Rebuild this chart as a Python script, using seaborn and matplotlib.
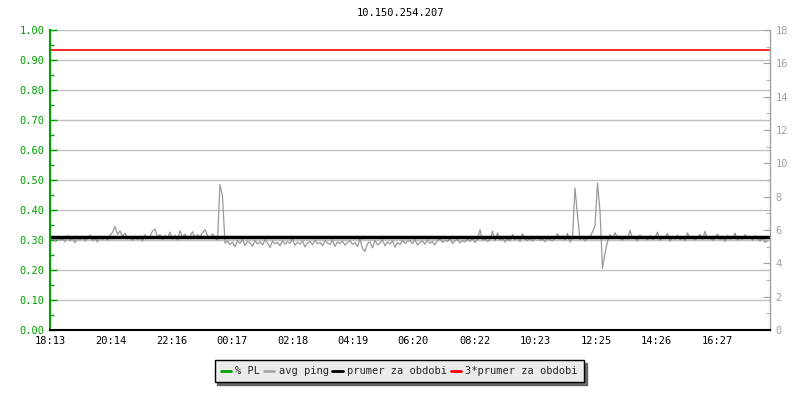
import matplotlib
matplotlib.use("Agg")
import matplotlib.pyplot as plt
from matplotlib.lines import Line2D
import numpy as np
import pandas as pd
import seaborn as sns

# ping samples (ms), one every 5 minutes starting 18:13
sample_step_min = 5
avg_ping = [
    5.42, 5.55, 5.31, 5.60, 5.38, 5.47, 5.29, 5.66, 5.35, 5.51, 5.24, 5.58,
    5.40, 5.63, 5.33, 5.49, 5.70, 5.36, 5.52, 5.28, 5.61, 5.44, 5.57, 5.39,
    5.68, 5.85, 6.22, 5.74, 5.95, 5.62, 5.81, 5.47, 5.58, 5.36, 5.64, 5.42,
    5.55, 5.33, 5.71, 5.48, 5.62, 5.94, 6.05, 5.59, 5.73, 5.41, 5.66, 5.50,
    5.87, 5.44, 5.69, 5.38, 5.96, 5.57, 5.75, 5.46, 5.63, 5.90, 5.52, 5.71,
    5.58, 5.84, 6.02, 5.66, 5.49, 5.77, 5.55, 5.38, 8.72, 8.01, 5.21, 5.34,
    5.12, 5.28, 4.98, 5.35, 5.19, 5.42, 5.07, 5.31, 5.24, 5.02, 5.38, 5.16,
    5.29, 5.10, 5.41, 5.22, 4.95, 5.33, 5.18, 5.26, 5.05, 5.37, 5.14, 5.30,
    5.20, 5.44, 5.08, 5.27, 5.15, 5.34, 4.99, 5.23, 5.31, 5.11, 5.39, 5.17,
    5.25, 5.06, 5.36, 5.21, 5.13, 5.40, 5.02, 5.28, 5.19, 5.33, 5.09, 5.26,
    5.35, 5.14, 5.24, 5.01, 5.46, 4.88, 4.72, 5.18, 5.30, 4.93, 5.37, 5.10,
    5.22, 5.41, 5.05, 5.28, 5.16, 5.35, 4.97, 5.25, 5.12, 5.39, 5.20, 5.31,
    5.36, 5.18, 5.42, 5.09, 5.27, 5.33, 5.15, 5.40, 5.21, 5.30, 5.11, 5.37,
    5.44, 5.26, 5.38, 5.31, 5.47, 5.19, 5.35, 5.42, 5.23, 5.36, 5.29, 5.45,
    5.32, 5.50, 5.26, 5.41, 6.02, 5.37, 5.48, 5.30, 5.44, 5.93, 5.35, 5.82,
    5.39, 5.52, 5.28, 5.46, 5.34, 5.74, 5.41, 5.57, 5.30, 5.78, 5.45, 5.36,
    5.50, 5.33, 5.47, 5.62, 5.38, 5.44, 5.29, 5.53, 5.40, 5.35, 5.49, 5.78,
    5.45, 5.66, 5.38, 5.80, 5.27, 5.52, 8.52, 6.88, 5.42, 5.56, 5.33, 5.49,
    5.60, 5.88, 6.25, 8.81, 7.12, 3.70, 4.62, 5.31, 5.72, 5.48, 5.83, 5.55,
    5.52, 5.38, 5.63, 5.44, 5.98, 5.49, 5.57, 5.33, 5.71, 5.46, 5.55, 5.40,
    5.66, 5.43, 5.51, 5.87, 5.37, 5.60, 5.47, 5.79, 5.32, 5.58, 5.45, 5.69,
    5.41, 5.56, 5.34, 5.83, 5.48, 5.62, 5.39, 5.53, 5.74, 5.44, 5.92, 5.47,
    5.58, 5.36, 5.52, 5.76, 5.42, 5.57, 5.31, 5.68, 5.46, 5.50, 5.81, 5.39,
    5.55, 5.44, 5.72, 5.48, 5.61, 5.37, 5.66, 5.50, 5.33, 5.54, 5.25, 5.35,
]
pl_value = 0.0          # packet loss stays at 0 the whole period
mean_ping = 5.6         # prumer za obdobi

tick_labels = ["18:13", "20:14", "22:16", "00:17", "02:18", "04:19",
               "06:20", "08:22", "10:23", "12:25", "14:26", "16:27"]
span_min = 1440
title = "10.150.254.207"

GREEN = "#00a000"
GRAY = "#999999"
GRID = "#c0c0c0"


def label_to_min(lbl, start="18:13"):
    h, m = map(int, lbl.split(":"))
    h0, m0 = map(int, start.split(":"))
    return (h * 60 + m - h0 * 60 - m0) % 1440


df = pd.DataFrame({
    "t": np.arange(len(avg_ping)) * sample_step_min,
    "ping": avg_ping,
})
df["pl"] = pl_value

sns.set_style("white")
plt.rcParams["font.family"] = ["DejaVu Sans Mono"]
plt.rcParams["font.size"] = 7.5

fig = plt.figure(figsize=(8, 4), dpi=100)
ax = fig.add_axes([0.0625, 0.175, 0.9, 0.75])
ax2 = ax.twinx()

# left axis: % PL
ax.set_xlim(0, span_min)
ax.set_ylim(0, 1.0)
ax.set_yticks(np.arange(0, 1.01, 0.1))
ax.set_yticks(np.arange(0.05, 1.0, 0.1), minor=True)
ax.set_yticklabels([f"{v:.2f}" for v in np.arange(0, 1.01, 0.1)])
ax.yaxis.grid(True, color=GRID, linewidth=1)
ax.set_axisbelow(True)
sns.lineplot(data=df, x="t", y="pl", ax=ax, color=GREEN, linewidth=1, legend=False)
ax.set_xlabel("")
ax.set_ylabel("")

# right axis: ping
sns.lineplot(data=df, x="t", y="ping", ax=ax2, color=GRAY, linewidth=0.9, legend=False)
ax2.axhline(mean_ping, color="black", linewidth=2.5)
ax2.axhline(3 * mean_ping, color="red", linewidth=1.2)
ax2.set_ylim(0, 18)
ax2.set_yticks(np.arange(0, 19, 2))
ax2.set_yticks(np.arange(1, 18, 2), minor=True)
ax2.set_ylabel("")
ax2.set_xlabel("")

ax.set_xticks([label_to_min(l) for l in tick_labels])
ax.set_xticklabels(tick_labels)

ax.tick_params(axis="y", which="both", direction="in", colors=GREEN, labelcolor=GREEN, pad=4)
ax.tick_params(axis="y", which="major", length=5, width=1)
ax.tick_params(axis="y", which="minor", length=3, width=1, left=True)
ax.tick_params(axis="x", direction="in", length=6, width=1, colors="black", pad=4)
ax2.tick_params(axis="y", which="both", direction="in", colors="#a0a0a0", labelcolor="#a0a0a0", pad=4)
ax2.tick_params(axis="y", which="major", length=5)
ax2.tick_params(axis="y", which="minor", length=3, right=True)

for a in (ax, ax2):
    for side in ("top", "left", "right", "bottom"):
        a.spines[side].set_visible(False)
ax2.spines["left"].set_visible(True)
ax2.spines["left"].set_color(GREEN)
ax2.spines["left"].set_linewidth(1.5)
ax2.spines["right"].set_visible(True)
ax2.spines["right"].set_color("#a0a0a0")
ax2.spines["right"].set_linewidth(1)
ax2.spines["bottom"].set_visible(True)
ax2.spines["bottom"].set_color("black")
ax2.spines["bottom"].set_linewidth(1.5)

fig.text(0.5, 0.967, title, ha="center", va="center", fontsize=7.5, color="black")

handles = [
    Line2D([], [], color=GREEN, linewidth=2),
    Line2D([], [], color="#a8a8a8", linewidth=2),
    Line2D([], [], color="black", linewidth=2),
    Line2D([], [], color="red", linewidth=2),
]
labels = ["% PL", "avg ping", "prumer za obdobi", "3*prumer za obdobi"]
leg = fig.legend(handles, labels, loc="center", bbox_to_anchor=(0.499, 0.072), ncol=4,
                 frameon=True, fancybox=False, shadow={"color": "#666666", "alpha": 1},
                 handlelength=1.0, handletextpad=0.4, columnspacing=0.35,
                 borderpad=0.6, fontsize=7.5)
leg.get_frame().set_facecolor("#ebebeb")
leg.get_frame().set_edgecolor("black")
leg.get_frame().set_linewidth(1)

fig.savefig("out.png", dpi=100)
